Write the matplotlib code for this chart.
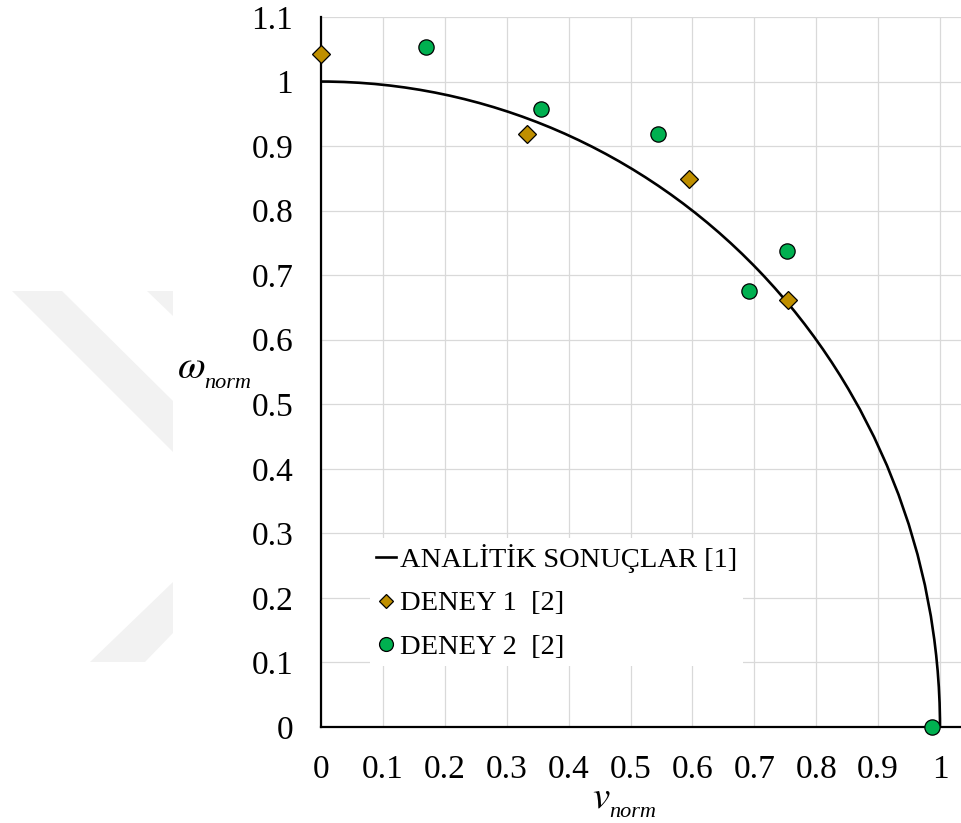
import matplotlib
matplotlib.use('agg')
import matplotlib.pyplot as plt
from matplotlib.patches import Arc, Polygon
from matplotlib.lines import Line2D

# analytic result: quarter circle
analytic_center = (0.0, 0.0)
analytic_radius = 1.0

deney1_v = [0.0, 0.332, 0.595, 0.754]
deney1_w = [1.043, 0.919, 0.849, 0.662]

deney2_v = [0.169, 0.355, 0.544, 0.691, 0.753, 0.987]
deney2_w = [1.053, 0.958, 0.919, 0.675, 0.738, 0.0]

x_ticks = [0.0, 0.1, 0.2, 0.3, 0.4, 0.5, 0.6, 0.7, 0.8, 0.9, 1.0]
x_labels = ["0", "0.1", "0.2", "0.3", "0.4", "0.5", "0.6", "0.7", "0.8", "0.9", "1"]
y_ticks = [0.0, 0.1, 0.2, 0.3, 0.4, 0.5, 0.6, 0.7, 0.8, 0.9, 1.0, 1.1]
y_labels = ["0", "0.1", "0.2", "0.3", "0.4", "0.5", "0.6", "0.7", "0.8", "0.9", "1", "1.1"]

labels = ["ANALİTİK SONUÇLAR [1]", "DENEY 1  [2]", "DENEY 2  [2]"]

gold = "#BF8F00"
green = "#00B050"

plt.rcParams['font.family'] = ['Liberation Serif', 'DejaVu Serif']
plt.rcParams['mathtext.fontset'] = 'stix'

W, H = 961, 823
fig = plt.figure(figsize=(W / 100, H / 100), dpi=100)

def fx(px):
    return px / W

def fy(py):
    return 1 - py / H

# faint watermark in the background (pixel coords)
wm = [
    [(12, 291), (62, 291), (173, 401), (173, 452)],
    [(147, 291), (173, 291), (173, 316)],
    [(90, 662), (145, 662), (173, 633), (173, 582)],
]
for poly in wm:
    pts = [(fx(px), fy(py)) for px, py in poly]
    fig.add_artist(Polygon(pts, closed=True, transform=fig.transFigure,
                           facecolor="#f2f2f2", edgecolor="none", zorder=0))

left, bottom, top = 321, 727, 17
ax = fig.add_axes([fx(left), fy(bottom), (W - left) / W, (bottom - top) / H])
ax.patch.set_alpha(0)

ax.set_xlim(0, (W - left) / 619.0)
ax.set_ylim(0, 1.1)

ax.set_xticks(x_ticks)
ax.set_xticklabels(x_labels)
ax.set_yticks(y_ticks)
ax.set_yticklabels(y_labels)
ax.tick_params(axis='both', length=0, labelsize=24)
ax.tick_params(axis='x', pad=20)
ax.tick_params(axis='y', pad=20)

ax.grid(True, color="#d9d9d9", linewidth=0.9, zorder=0)
ax.set_axisbelow(True)

for s in ["top", "right"]:
    ax.spines[s].set_visible(False)
for s in ["left", "bottom"]:
    ax.spines[s].set_linewidth(1.6)
    ax.spines[s].set_color("black")
    ax.spines[s].set_zorder(3)

arc = Arc(analytic_center, 2 * analytic_radius, 2 * analytic_radius,
          theta1=0, theta2=90, color="black", linewidth=1.9, zorder=4)
ax.add_patch(arc)

ax.plot(deney1_v, deney1_w, linestyle="none", marker="D", markersize=9,
        markerfacecolor=gold, markeredgecolor="black", markeredgewidth=0.9,
        zorder=5, clip_on=False)
ax.plot(deney2_v, deney2_w, linestyle="none", marker="o", markersize=11,
        markerfacecolor=green, markeredgecolor="black", markeredgewidth=0.9,
        zorder=5, clip_on=False)

handles = [
    Line2D([], [], color="black", linewidth=1.9),
    Line2D([], [], linestyle="none", marker="D", markersize=7,
           markerfacecolor=gold, markeredgecolor="black", markeredgewidth=0.9),
    Line2D([], [], linestyle="none", marker="o", markersize=10,
           markerfacecolor=green, markeredgecolor="black", markeredgewidth=0.9),
]
leg = ax.legend(handles, labels, loc="upper left",
                bbox_to_anchor=(fx(370), fy(538)), bbox_transform=fig.transFigure,
                fontsize=20.5, frameon=True, fancybox=False, framealpha=1,
                facecolor="white", edgecolor="none", borderaxespad=0,
                borderpad=0.2, handlelength=0.7, handletextpad=0.15,
                labelspacing=0.63)
leg.set_zorder(6)

# axis titles: big italic symbol with a smaller italic subscript
fig.text(fx(592), fy(807), r"$v$", fontsize=28, ha="left", va="baseline")
fig.text(fx(609), fy(817), "norm", fontsize=16, style="italic", ha="left", va="baseline")
fig.text(fx(177), fy(378), r"$\omega$", fontsize=29, ha="left", va="baseline")
fig.text(fx(204), fy(388), "norm", fontsize=16, style="italic", ha="left", va="baseline")

fig.savefig("out.png", dpi=100)
